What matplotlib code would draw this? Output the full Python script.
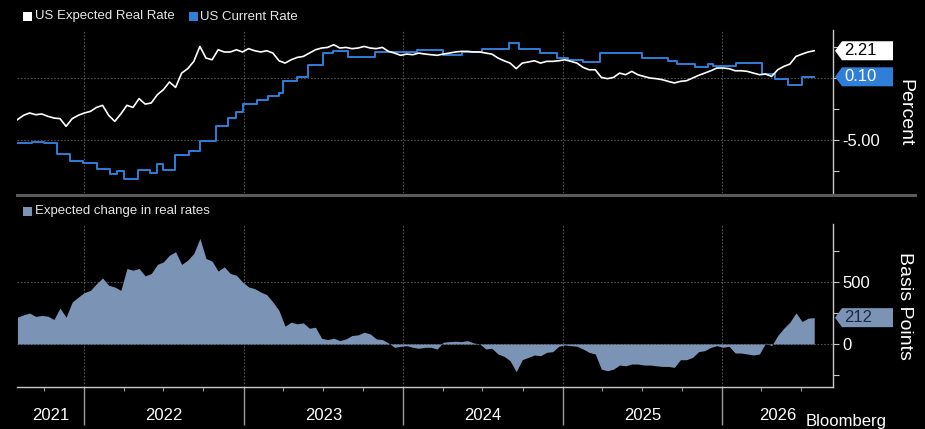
import matplotlib
matplotlib.use('Agg')
import matplotlib.pyplot as plt
import matplotlib.dates as mdates
import matplotlib.transforms as mtrans
from matplotlib.patches import Polygon, Rectangle
from matplotlib.lines import Line2D
import pandas as pd

plt.rcParams['font.family'] = ['Liberation Sans', 'DejaVu Sans']

# ---------------- data ----------------
series_start = '2021-08-01'
series_end = '2026-07-31'

expected_real_rate = [
    -3.37, -3.02, -2.83, -2.97, -2.91, -3.10, -3.24, -3.29, -3.91, -3.29,
    -3.02, -2.83, -2.70, -2.38, -2.21, -3.02, -3.51, -2.91, -2.21, -2.38,
    -1.67, -2.11, -2.02, -1.35, -0.94, -0.32, -0.76, 0.40, 0.76, 1.35,
    2.56, 1.62, 1.48, 2.29, 2.11,
    2.11, 2.29, 2.11, 2.38, 2.21, 2.11, 2.21, 2.02, 1.40, 1.21,
    1.48, 1.67, 1.75, 2.02, 2.29, 2.43, 2.48, 2.70, 2.43, 2.48,
    2.38, 2.43, 2.56, 2.43, 2.38, 2.48, 2.16, 2.02, 1.84, 1.94,
    1.89, 2.02, 1.94,
    1.89, 1.84, 1.94, 2.02, 2.11, 2.16, 2.16, 2.11, 2.11, 2.02,
    1.94, 1.62, 1.40, 1.21, 0.76, 1.21, 1.30, 1.40, 1.21, 1.35,
    1.35, 1.40, 1.48, 1.35, 1.21, 0.86, 0.67, 0.67, 0.05, -0.05,
    0.05, 0.40, 0.27, 0.54,
    0.27, 0.13, 0.00, -0.05, -0.13, -0.27, -0.40, -0.27, -0.22, 0.00,
    0.22, 0.40, 0.59, 0.81, 0.81, 0.76, 0.59, 0.59, 0.54, 0.40,
    0.27, 0.32, 0.13, 0.67, 0.94, 1.13, 1.75, 1.94, 2.11, 2.21,
]

expected_change_bp = [
    216, 235, 249, 222, 230, 224, 197, 289, 216, 338,
    378, 414, 432, 486, 532, 473, 459, 432, 608, 595,
    608, 549, 568, 641, 662, 716, 743, 641, 676, 730,
    851, 689, 668, 587, 622,
    568, 554, 500, 460, 446, 419, 397, 338, 270, 143,
    176, 162, 170, 127, 135, 46, 35, 46, 27, 41,
    68, 73, 95, 81, 41, 35, 8, -27, -19, -14,
    -27, -35, -27,
    -27, -41, 14, 19, 22, 19, 27, 8, 0, -41,
    -35, -81, -100, -135, -224, -127, -108, -89, -95, -68,
    -62, -19, -8, -14, -19, -41, -68, -81, -203, -216,
    -203, -170, -176, -162,
    -162, -170, -170, -176, -181, -181, -189, -127, -127, -108,
    -62, -54, -27, -14, -27, -19, -73, -73, -81, -89,
    -81, 8, -14, 68, 127, 176, 251, 181, 208, 212,
]

current_rate_dates = [
    '2021-08-01', '2021-09-04', '2021-09-30', '2021-10-31', '2021-11-30',
    '2021-12-30', '2022-01-30', '2022-02-28', '2022-03-17', '2022-04-01',
    '2022-05-05', '2022-06-01', '2022-06-16', '2022-07-01', '2022-07-28',
    '2022-08-28', '2022-09-23', '2022-10-29', '2022-11-27', '2022-12-15',
    '2022-12-30', '2023-01-31', '2023-02-27', '2023-03-22', '2023-04-01',
    '2023-05-03', '2023-05-29', '2023-07-01', '2023-07-25', '2023-08-28',
    '2023-10-29', '2024-02-02', '2024-04-02', '2024-05-15', '2024-06-30',
    '2024-08-30', '2024-09-22', '2024-11-09', '2024-12-18', '2025-01-14',
    '2025-02-17', '2025-03-28', '2025-07-02', '2025-08-30', '2025-09-20',
    '2025-10-31', '2025-11-30', '2025-12-12', '2026-02-02', '2026-04-03',
    '2026-05-02', '2026-06-01', '2026-07-03', '2026-07-31',
]
current_rate_values = [
    -5.26, -5.15, -5.26, -6.15, -6.69,
    -6.88, -7.34, -7.77, -7.50, -8.15,
    -7.42, -7.69, -6.96, -7.42, -6.21,
    -5.88, -5.13, -3.91, -3.24, -2.78,
    -2.11, -1.75, -1.48, -1.21, -0.22,
    0.05, 1.03, 2.02, 2.21, 1.67,
    2.11, 2.29, 1.88, 2.11, 2.35,
    2.82, 2.35, 2.05, 1.60, 1.45,
    1.33, 2.00, 1.65, 1.38, 1.15,
    0.88, 1.13, 0.95, 1.20, 0.35,
    -0.08, -0.58, 0.10, 0.10,
]

year_labels = ['2021', '2022', '2023', '2024', '2025', '2026']
legend_top = ['US Expected Real Rate', 'US Current Rate']
legend_bottom = 'Expected change in real rates'
source_text = 'Bloomberg'

# ---------------- style ----------------
WHITE = '#ffffff'
BLUE = '#2f7ed8'
AREA = '#7b93b5'
GRID = '#505050'
AXIS = '#c8c8c8'

W, H = 925, 429
fig = plt.figure(figsize=(W / 100, H / 100), dpi=100, facecolor='black')


def fx(px):
    return px / W


def fy(py):
    return 1 - py / H


ax1 = fig.add_axes([fx(17), fy(193), (833 - 17) / W, (193 - 30) / H])
ax2 = fig.add_axes([fx(17), fy(387), (833 - 17) / W, (387 - 224) / H])

dates = pd.date_range(series_start, series_end, periods=len(expected_real_rate))
cr_dates = pd.to_datetime(current_rate_dates)
xlim = (pd.Timestamp('2021-07-31'), pd.Timestamp('2026-09-12'))
year_starts = [pd.Timestamp(f'{y}-01-01') for y in range(2022, 2027)]

for ax in (ax1, ax2):
    ax.set_facecolor('black')
    for s in ('top', 'left', 'bottom'):
        ax.spines[s].set_visible(False)
    ax.spines['right'].set_color(AXIS)
    ax.spines['right'].set_linewidth(1.0)
    ax.set_xlim(*xlim)
    for ys in year_starts:
        ax.axvline(ys, color=GRID, lw=0.8, ls=(0, (1.5, 1.5)), zorder=0)
    ax.yaxis.tick_right()
    ax.tick_params(axis='y', which='both', colors=AXIS, length=4, width=0.8,
                   labelsize=12, labelcolor='white', pad=3)

# ---- top panel ----
ax1.set_ylim(-9.31, 3.89)
for g in (0, -5):
    ax1.axhline(g, color=GRID, lw=0.8, ls=(0, (1.5, 1.5)), zorder=0)
ax1.plot(dates, expected_real_rate, color=WHITE, lw=1.2, zorder=3)
ax1.step(cr_dates, current_rate_values, where='post', color=BLUE, lw=1.4, zorder=2)
ax1.set_yticks([-5])
ax1.set_yticklabels(['-5.00'])
ax1.set_yticks([2.5, 0, -2.5, -7.5], minor=True)
ax1.set_xticks([])

# ---- bottom panel ----
ax2.set_ylim(-347, 967)
for g in (0, 500):
    ax2.axhline(g, color=GRID, lw=0.8, ls=(0, (1.5, 1.5)), zorder=0)
ax2.fill_between(dates, 0, expected_change_bp, color=AREA, lw=0, zorder=2)
ax2.set_yticks([0, 500])
ax2.set_yticklabels(['0', '500'])
ax2.set_yticks([750, 250, -250], minor=True)
ax2.spines['bottom'].set_visible(True)
ax2.spines['bottom'].set_color(AXIS)
ax2.spines['bottom'].set_linewidth(1.0)
ax2.xaxis.set_major_locator(mdates.YearLocator())
ax2.xaxis.set_minor_locator(mdates.MonthLocator(bymonth=[4, 7, 10]))
ax2.xaxis.set_major_formatter(plt.NullFormatter())
ax2.tick_params(axis='x', which='major', length=27, width=1.0, colors='#9a9a9a', direction='out')
ax2.tick_params(axis='x', which='minor', length=3, width=0.8, colors='#9a9a9a', direction='out')

trans2 = mtrans.blended_transform_factory(ax2.transData, ax2.transAxes)
for lab in year_labels:
    y = int(lab)
    a = max(pd.Timestamp(f'{y}-01-01'), xlim[0])
    b = min(pd.Timestamp(f'{y + 1}-01-01'), xlim[1])
    mid = a + (b - a) / 2
    ax2.text(mid, -0.175, lab, transform=trans2, ha='center', va='center',
             fontsize=12, color='white', clip_on=False)

# ---- separator ----
fig.add_artist(Line2D([fx(17), fx(915)], [fy(195), fy(195)], color='#5a5a5a', lw=2.2))

# ---- legends ----
def legend_item(x_sq, y_c, color, text, x_text):
    fig.add_artist(Rectangle((fx(x_sq), fy(y_c + 4.5)), 9 / W, 9 / H,
                             facecolor=color, edgecolor='none', transform=fig.transFigure))
    fig.text(fx(x_text), fy(y_c), text, ha='left', va='center', fontsize=9.5, color='#e6e6e6')


legend_item(23, 16.5, WHITE, legend_top[0], 35)
legend_item(189, 16.5, BLUE, legend_top[1], 200)
legend_item(23, 211, AREA, legend_bottom, 35)

# ---- axis titles ----
fig.text(fx(905), fy(113), 'Percent', rotation=270, ha='center', va='center',
         fontsize=14, color='white')
fig.text(fx(905), fy(306), 'Basis Points', rotation=270, ha='center', va='center',
         fontsize=14, color='white')

# ---- source ----
fig.text(fx(806), fy(426), source_text, ha='left', va='baseline', fontsize=12, color='white')

# ---- value tags ----
def value_tag(ax, value, text, face, tcolor):
    fig.canvas.draw()
    ypix = ax.transData.transform((0, value))[1]
    x0, xn, x1 = 835, 842, 893
    h = 9.5
    pts = [(x0, ypix), (xn, ypix + h), (x1, ypix + h), (x1, ypix - h), (xn, ypix - h)]
    poly = Polygon(pts, closed=True, facecolor=face, edgecolor='none',
                   transform=mtrans.IdentityTransform())
    fig.add_artist(poly)
    fig.text(844 / W, ypix / H, text, ha='left', va='center', fontsize=12, color=tcolor)


value_tag(ax1, expected_real_rate[-1], f'{expected_real_rate[-1]:.2f}', WHITE, 'black')
value_tag(ax1, current_rate_values[-1], f'{current_rate_values[-1]:.2f}', BLUE, 'white')
value_tag(ax2, expected_change_bp[-1], f'{expected_change_bp[-1]:d}', AREA, '#1c2a44')

fig.savefig('out.png', dpi=100, facecolor='black')
